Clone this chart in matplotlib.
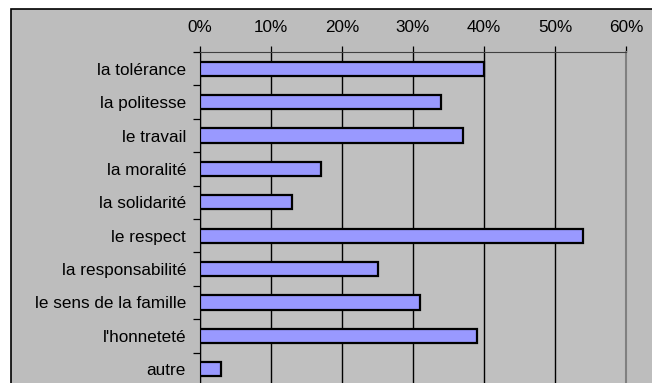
import numpy as np
import matplotlib.pyplot as plt
from matplotlib.patches import Rectangle
from matplotlib.ticker import FixedLocator

plt.rcParams['font.family'] = ['Liberation Sans', 'DejaVu Sans']

categories = ['la tolérance', 'la politesse', 'le travail', 'la moralité',
              'la solidarité', 'le respect', 'la responsabilité',
              'le sens de la famille', "l'honneteté", 'autre']
values = [40, 34, 37, 17, 13, 54, 25, 31, 39, 3]
xticks = [0, 10, 20, 30, 40, 50, 60]

W, H = 652, 383
fig = plt.figure(figsize=(W / 100, H / 100), dpi=100)
fig.patch.set_facecolor('white')

# grey chart frame, running off the right and bottom edge
fig.patches.append(Rectangle((11 / W, -0.1), 1.0, (H - 9) / H + 0.1,
                             transform=fig.transFigure, facecolor='#bdbdbd',
                             edgecolor='black', linewidth=1.2, zorder=-5))

ax = fig.add_axes([200 / W, -3 / H, 426 / W, (386 - 52) / H])
ax.set_facecolor('#c0c0c0')

y = np.arange(len(categories))
ax.barh(y, values, height=0.43, color='#9999ff', edgecolor='black',
        linewidth=1.6, zorder=3)

ax.set_xlim(0, 60)
ax.set_ylim(len(categories) - 0.5, -0.5)
ax.set_xticks(xticks)
ax.set_xticklabels([f'{t}%' for t in xticks])
ax.xaxis.tick_top()
ax.xaxis.grid(True, color='black', linewidth=1.0, zorder=1)

ax.set_yticks(y)
ax.set_yticklabels(categories)
ax.yaxis.set_minor_locator(FixedLocator(np.arange(-0.5, len(categories), 1)))
ax.tick_params(axis='y', which='major', length=0, pad=10, labelsize=12.3)
ax.tick_params(axis='y', which='minor', length=5, width=0.9, direction='out')
ax.tick_params(axis='x', length=4, width=0.9, direction='out', pad=8.5,
               labelsize=12.3)

ax.spines['bottom'].set_visible(False)
ax.spines['top'].set_color('#404040')
ax.spines['left'].set_color('black')
ax.spines['right'].set_color('#808080')
ax.spines['right'].set_linewidth(1.5)

fig.savefig('out.png', dpi=100)
